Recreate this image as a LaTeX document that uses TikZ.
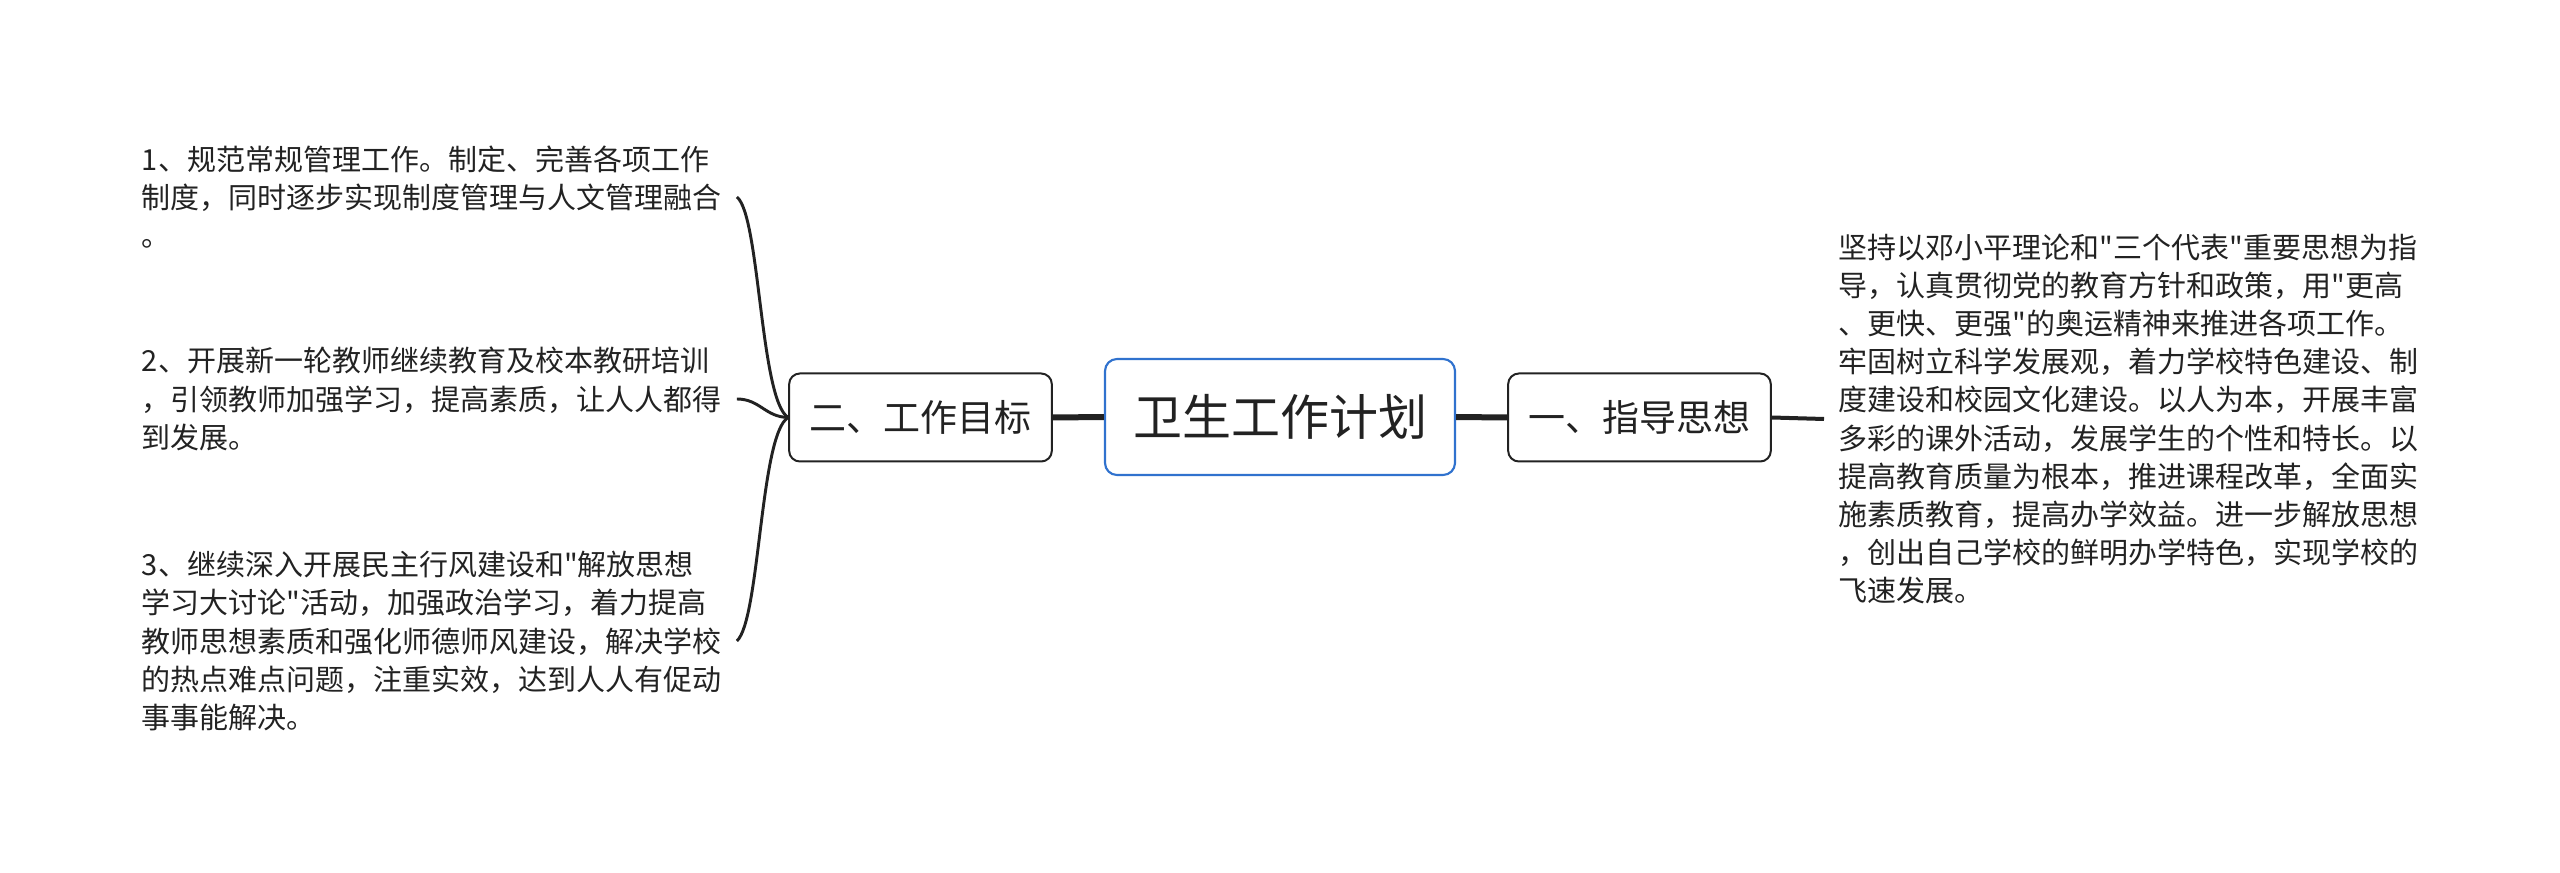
\documentclass[tikz,border=0pt]{standalone}
\usepackage{fontspec}
\setmainfont{Noto Sans CJK SC}[Ligatures=TeXOff]
\usepackage{tikz}

\begin{document}
\begin{tikzpicture}[x=0.75pt,y=0.75pt,yscale=-1,xscale=1,
  inkline/.style={color={rgb, 255:red, 34; green, 34; blue, 34 }},
  mainbox/.style={draw={rgb, 255:red, 48; green, 114; blue, 206 }, line width=1.6pt, rounded corners=9pt, fill=white, minimum width=262.5pt, minimum height=87pt, inner sep=0pt, text={rgb, 255:red, 34; green, 34; blue, 34 }, font=\fontsize{36.75}{44}\selectfont},
  branchbox/.style={draw={rgb, 255:red, 34; green, 34; blue, 34 }, line width=1.5pt, rounded corners=8pt, fill=white, minimum width=197pt, minimum height=66pt, inner sep=0pt, text={rgb, 255:red, 34; green, 34; blue, 34 }, font=\fontsize{27.75}{34}\selectfont},
  leaftext/.style={anchor=west, align=left, inner xsep=11pt, inner ysep=2pt, text={rgb, 255:red, 34; green, 34; blue, 34 }, font=\fontsize{21.75}{28.6}\selectfont}
]
%set diagram size
\useasboundingbox (0,0) rectangle (2560,873);

%Shape: Rounded Rectangle
\node [mainbox] (plan) at (1280,417) {卫生工作计划};
%Shape: Rounded Rectangle
\node [branchbox] (guide) at (1639.5,417.5) {一、指导思想};
%Shape: Rounded Rectangle
\node [branchbox] (goal) at (920.5,417.5) {二、工作目标};

% Text Node
\node [leaftext] (guidetext) at (1824,419) {坚持以邓小平理论和"三个代表"重要思想为指\\导，认真贯彻党的教育方针和政策，用"更高\\、更快、更强"的奥运精神来推进各项工作。\\牢固树立科学发展观，着力学校特色建设、制\\度建设和校园文化建设。以人为本，开展丰富\\多彩的课外活动，发展学生的个性和特长。以\\提高教育质量为根本，推进课程改革，全面实\\施素质教育，提高办学效益。进一步解放思想\\，创出自己学校的鲜明办学特色，实现学校的\\飞速发展。};
% Text Node
\node [leaftext] (goalone) at (127,197) {1、规范常规管理工作。制定、完善各项工作\\制度，同时逐步实现制度管理与人文管理融合\\。};
% Text Node
\node [leaftext] (goaltwo) at (127,399) {2、开展新一轮教师继续教育及校本教研培训\\，引领教师加强学习，提高素质，让人人都得\\到发展。};
% Text Node
\node [leaftext] (goalthree) at (127,641) {3、继续深入开展民主行风建设和"解放思想\\学习大讨论"活动，加强政治学习，着力提高\\教师思想素质和强化师德师风建设，解决学校\\的热点难点问题，注重实效，达到人人有促动\\事事能解决。};

%Straight Lines
\draw [inkline, line width=4.5pt] (plan.east) -- (guide.west) ;
%Straight Lines
\draw [inkline, line width=4.5pt] (plan.west) -- (goal.east) ;
%Straight Lines
\draw [inkline, line width=3pt] (guide.east) -- (guidetext.west) ;

%Curve Lines
\draw [inkline, line width=2.2pt] (goal.west) .. controls (760,400) and (760,215) .. (goalone.east) ;
%Curve Lines
\draw [inkline, line width=2.2pt] (goal.west) .. controls (765,417) and (760,399) .. (goaltwo.east) ;
%Curve Lines
\draw [inkline, line width=2.2pt] (goal.west) .. controls (760,434) and (760,620) .. (goalthree.east) ;

\end{tikzpicture}
\end{document}
